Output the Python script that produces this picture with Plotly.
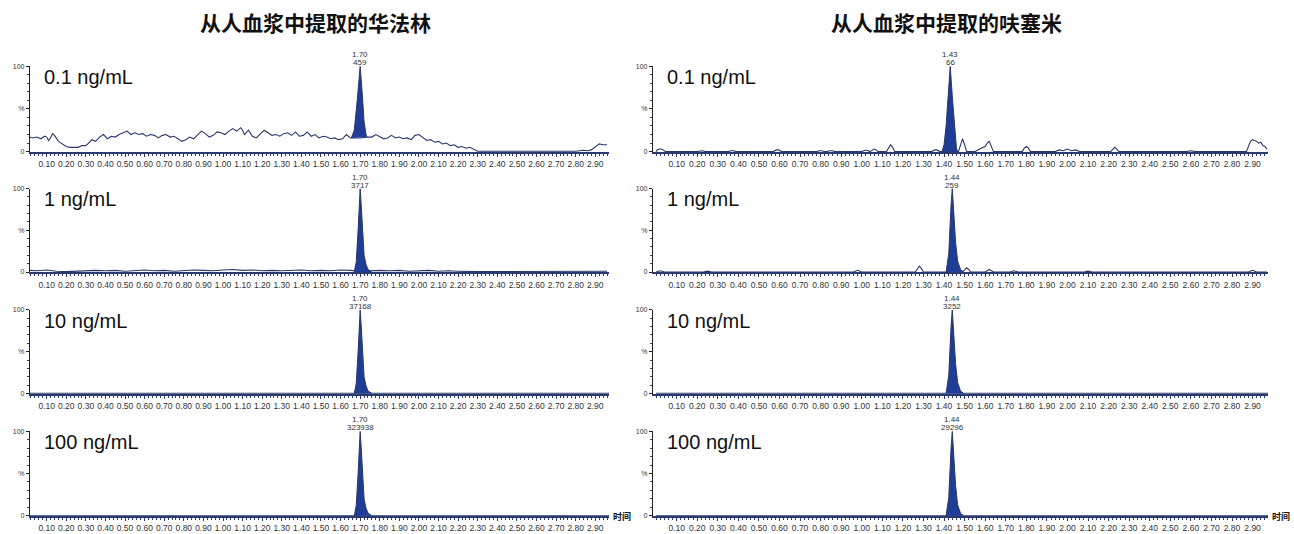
import plotly.graph_objects as go

# ---------------- data ----------------
titles = ["从人血浆中提取的华法林", "从人血浆中提取的呋塞米"]
conc_labels = ["0.1 ng/mL", "1 ng/mL", "10 ng/mL", "100 ng/mL"]
peak_rt_left = ["1.70", "1.70", "1.70", "1.70"]
peak_area_left = ["459", "3717", "37168", "323938"]
peak_rt_right = ["1.43", "1.44", "1.44", "1.44"]
peak_area_right = ["66", "259", "3252", "29296"]

time_ticks = [0.10, 0.20, 0.30, 0.40, 0.50, 0.60, 0.70, 0.80, 0.90, 1.00,
              1.10, 1.20, 1.30, 1.40, 1.50, 1.60, 1.70, 1.80, 1.90, 2.00,
              2.10, 2.20, 2.30, 2.40, 2.50, 2.60, 2.70, 2.80, 2.90]
time_tick_labels = ["0.10", "0.20", "0.30", "0.40", "0.50", "0.60", "0.70", "0.80", "0.90", "1.00",
                    "1.10", "1.20", "1.30", "1.40", "1.50", "1.60", "1.70", "1.80", "1.90", "2.00",
                    "2.10", "2.20", "2.30", "2.40", "2.50", "2.60", "2.70", "2.80", "2.90"]
y_ticks = [0, 50, 100]
y_tick_labels = ["0", "%", "100"]

# left, 0.1 ng/mL baseline (noisy)
t_L01 = [0.01, 0.03, 0.05, 0.07, 0.09, 0.10, 0.11, 0.12, 0.13, 0.14, 0.16, 0.18, 0.20, 0.22, 0.24,
         0.26, 0.28, 0.30, 0.32, 0.33, 0.35, 0.37, 0.39, 0.41, 0.43, 0.45, 0.47, 0.49, 0.51, 0.53,
         0.55, 0.57, 0.59, 0.61, 0.63, 0.65, 0.67, 0.69, 0.71, 0.73, 0.75, 0.77, 0.79, 0.81, 0.83,
         0.85, 0.87, 0.89, 0.91, 0.93, 0.95, 0.97, 0.99, 1.01, 1.03, 1.05, 1.07, 1.09, 1.10, 1.11,
         1.13, 1.15, 1.17, 1.19, 1.21, 1.23, 1.25, 1.27, 1.29, 1.31, 1.33, 1.35, 1.37, 1.39, 1.41,
         1.43, 1.45, 1.47, 1.49, 1.51, 1.53, 1.55, 1.57, 1.59, 1.61, 1.63, 1.65, 1.67, 1.70, 1.73,
         1.76, 1.78, 1.80, 1.82, 1.84, 1.86, 1.88, 1.90, 1.92, 1.94, 1.96, 1.98, 2.00, 2.02, 2.04,
         2.06, 2.08, 2.10, 2.12, 2.14, 2.16, 2.18, 2.20, 2.22, 2.24, 2.26, 2.28, 2.30, 2.40, 2.50,
         2.60, 2.70, 2.80, 2.84, 2.86, 2.88, 2.90, 2.92, 2.94, 2.96]
y_L01 = [17, 16, 17, 15, 18, 17, 13, 16, 21, 19, 12, 9, 6, 5, 5,
         5, 7, 7, 11, 14, 12, 17, 20, 15, 18, 17, 20, 22, 24, 20,
         22, 20, 21, 18, 20, 19, 16, 19, 20, 17, 18, 15, 12, 14, 17,
         15, 19, 24, 21, 17, 19, 23, 22, 20, 24, 27, 24, 28, 25, 20,
         25, 18, 16, 20, 25, 22, 19, 20, 18, 21, 22, 19, 23, 18, 19,
         23, 18, 20, 16, 18, 17, 15, 16, 14, 15, 20, 16, 16, 16, 17,
         17, 20, 17, 15, 16, 19, 16, 17, 15, 16, 14, 19, 20, 17, 13,
         14, 11, 12, 9, 10, 7, 8, 5, 6, 4, 5, 3, 0.5, 0.5, 0.5,
         0.5, 0.5, 0.5, 1.5, 1, 2, 6, 9, 8, 8]
pk_t_L01 = [1.655, 1.670, 1.685, 1.700, 1.710, 1.720, 1.730, 1.735]
pk_y_L01 = [16, 25, 60, 100, 70, 35, 20, 17]

# left, 1 ng/mL baseline
t_L1 = [0.01, 0.05, 0.10, 0.15, 0.20, 0.25, 0.30, 0.35, 0.40, 0.45, 0.50, 0.55, 0.60, 0.65, 0.70,
        0.75, 0.80, 0.85, 0.90, 0.95, 1.00, 1.05, 1.10, 1.15, 1.20, 1.25, 1.30, 1.35, 1.40, 1.45,
        1.50, 1.55, 1.60, 1.65, 1.70, 1.75, 1.80, 1.85, 1.90, 1.95, 2.00, 2.05, 2.10, 2.15, 2.20,
        2.25, 2.30, 2.40, 2.50, 2.60, 2.70, 2.80, 2.90, 2.96]
y_L1 = [2, 1.5, 2.5, 1, 0.5, 1, 2, 2, 1.5, 2, 1, 2, 2.5, 1.5, 2,
        1, 1.5, 2.5, 2, 1.5, 2.5, 3, 2, 2.5, 1.5, 2, 1.5, 2, 2.5, 1.5,
        2, 1.5, 2.5, 2, 1, 1.5, 2, 1.5, 2, 1, 1.5, 2, 1, 1.5, 1,
        0.5, 0.5, 0.5, 0.5, 0.5, 0.5, 0.5, 1, 1]
pk_t_L = [1.670, 1.680, 1.690, 1.700, 1.705, 1.712, 1.720, 1.730, 1.740, 1.760]
pk_y_L = [0, 12, 52, 100, 82, 45, 20, 9, 3, 0]

t_flat = [0.0, 2.98]
y_flat = [0, 0]

# right, 0.1 ng/mL baseline
t_R01 = [0.00, 0.005, 0.015, 0.025, 0.035, 0.045, 0.20, 0.215, 0.225, 0.24, 0.35, 0.365, 0.375, 0.39,
         0.57, 0.585, 0.595, 0.61, 0.78, 0.795, 0.805, 0.82, 0.83, 0.845, 0.855, 0.87,
         1.00, 1.015, 1.025, 1.04, 1.05, 1.06, 1.07, 1.08, 1.12, 1.13, 1.14, 1.15, 1.16,
         1.34, 1.355, 1.365, 1.38, 1.47, 1.48, 1.49, 1.50, 1.51, 1.55, 1.57, 1.59, 1.60,
         1.61, 1.62, 1.63, 1.64, 1.78, 1.79, 1.80, 1.81, 1.82, 1.94, 1.96, 1.98, 2.00, 2.02,
         2.04, 2.06, 2.21, 2.22, 2.23, 2.24, 2.25, 2.58, 2.60, 2.62, 2.87, 2.88, 2.89, 2.90,
         2.91, 2.92, 2.93, 2.94, 2.95, 2.96, 2.97]
y_R01 = [0, 2, 3, 3, 2, 0, 0, 1, 1, 0, 0, 1, 1, 0,
         0, 2, 2, 0, 0, 1, 1, 0, 0, 1, 1, 0,
         0, 1.5, 1.5, 0, 2, 3, 2, 0, 0, 5, 8, 5, 0,
         0, 2, 2, 0, 0, 8, 15, 8, 0, 0, 3, 5, 6,
         10, 12, 6, 0, 0, 4, 6, 4, 0, 0, 2, 1, 3, 1,
         2, 0, 0, 3, 5, 3, 0, 0, 1, 0, 0, 6, 12, 14,
         13, 12, 10, 11, 7, 6, 3]
pk_t_R01 = [1.390, 1.400, 1.410, 1.420, 1.430, 1.440, 1.450, 1.460, 1.465]
pk_y_R01 = [0, 8, 30, 70, 100, 65, 30, 5, 0]

# right, 1 ng/mL baseline
t_R1 = [0.00, 0.01, 0.02, 0.03, 0.04, 0.23, 0.25, 0.27, 0.96, 0.98, 1.00, 1.26, 1.27, 1.28, 1.29, 1.30,
        1.49, 1.50, 1.51, 1.52, 1.53, 1.60, 1.62, 1.64, 1.72, 1.74, 1.76, 2.08, 2.10, 2.12, 2.88,
        2.90, 2.92, 2.97]
y_R1 = [0, 1, 1.5, 1, 0, 0, 1, 0, 0, 2, 0, 0, 4, 7, 4, 0,
        0, 3, 5, 3, 0, 0, 3, 0, 0, 1.5, 0, 0, 1, 0, 0,
        2, 0, 0]
pk_t_R = [1.410, 1.423, 1.434, 1.440, 1.446, 1.456, 1.466, 1.480, 1.495]
pk_y_R = [0, 22, 80, 100, 76, 36, 13, 3, 0]

panels = [
    (t_L01, y_L01, pk_t_L01, pk_y_L01),
    (t_L1, y_L1, pk_t_L, pk_y_L),
    (t_flat, y_flat, pk_t_L, pk_y_L),
    (t_flat, y_flat, pk_t_L, pk_y_L),
    (t_R01, y_R01, pk_t_R01, pk_y_R01),
    (t_R1, y_R1, pk_t_R, pk_y_R),
    (t_flat, y_flat, pk_t_R, pk_y_R),
    (t_flat, y_flat, pk_t_R, pk_y_R),
]

# ---------------- layout geometry ----------------
W, H = 1294, 534
x_domains = [[30 / W, 609 / W], [653 / W, 1268 / W]]
x_ranges = [[0.015, 2.97], [-0.015, 2.975]]
row_px = [(63, 150), (187, 272), (310, 395), (433, 519)]
y_domains = [[1 - b / H, 1 - t / H] for (t, b) in row_px]

LINE = "#2a3768"
FILL = "#1f3c96"
AXC = "#2b3a6e"
TXT = "#333333"
TICKFONT = dict(family="Liberation Sans Narrow, Liberation Sans, Arial", size=8.5, color=TXT)

fig = go.Figure()
layout = dict(
    width=W, height=H, margin=dict(l=0, r=0, t=0, b=0),
    paper_bgcolor="white", plot_bgcolor="white", showlegend=False,
)
annotations = []

for i, (bt, by, pt, py) in enumerate(panels):
    col = i // 4
    row = i % 4
    n = i + 1
    xa = "x" if n == 1 else f"x{n}"
    ya = "y" if n == 1 else f"y{n}"
    fig.add_trace(go.Scatter(x=bt, y=by, mode="lines", xaxis=xa, yaxis=ya,
                             line=dict(color=LINE, width=1.1), hoverinfo="skip"))
    fig.add_trace(go.Scatter(x=pt, y=py, mode="lines", xaxis=xa, yaxis=ya, fill="toself",
                             fillcolor=FILL, line=dict(color=LINE, width=1), hoverinfo="skip"))
    layout[f"xaxis{n}"] = dict(
        domain=x_domains[col], range=x_ranges[col], anchor=ya,
        showline=True, linecolor=AXC, linewidth=2, showgrid=False, zeroline=False,
        tickvals=time_ticks, ticktext=time_tick_labels, tickangle=0,
        ticks="outside", ticklen=3, tickcolor=AXC, tickwidth=1,
        minor=dict(dtick=0.02, tick0=0, ticks="outside", ticklen=2, tickcolor=AXC),
        tickfont=TICKFONT, fixedrange=True,
    )
    layout[f"yaxis{n}"] = dict(
        domain=y_domains[row], range=[-0.5, 100], anchor=xa,
        showline=True, linecolor="#222222", linewidth=1.2, showgrid=False, zeroline=False,
        tickvals=y_ticks, ticktext=y_tick_labels,
        ticks="outside", ticklen=3, tickcolor="#222222",
        minor=dict(dtick=10, ticks="outside", ticklen=2, tickcolor="#444444"),
        tickfont=dict(family="Liberation Sans", size=7, color=TXT), fixedrange=True,
    )
    # concentration label
    annotations.append(dict(
        text=conc_labels[row], xref="paper", yref="paper",
        x=(x_domains[col][0] * W + 12) / W, y=1 - (row_px[row][0] + 11) / H,
        xanchor="left", yanchor="middle", showarrow=False,
        font=dict(family="Liberation Sans, Arial", size=20, color="#111111"),
    ))
    # peak labels (retention time above area)
    rts = peak_rt_left if col == 0 else peak_rt_right
    areas = peak_area_left if col == 0 else peak_area_right
    pk_x = pt[py.index(max(py))]
    annotations.append(dict(
        text=areas[row], xref=xa, yref=ya, x=pk_x, y=100, yshift=-3,
        xanchor="center", yanchor="bottom", showarrow=False,
        font=dict(family="Liberation Sans, Arial", size=8, color=TXT),
    ))
    annotations.append(dict(
        text=rts[row], xref=xa, yref=ya, x=pk_x, y=100, yshift=5,
        xanchor="center", yanchor="bottom", showarrow=False,
        font=dict(family="Liberation Sans, Arial", size=8, color=TXT),
    ))

# titles
for col, ttl in enumerate(titles):
    cx = [315, 946][col]
    annotations.append(dict(
        text=f"<b>{ttl}</b>", xref="paper", yref="paper", x=cx / W, y=1 - 18 / H,
        xanchor="center", yanchor="middle", showarrow=False,
        font=dict(family="Noto Sans CJK SC", size=21, color="#111111"),
    ))
# time axis labels
for col in range(2):
    annotations.append(dict(
        text="<b>时间</b>", xref="paper", yref="paper", x=(x_domains[col][1] * W + 2) / W,
        y=1 - 519 / H, xanchor="left", yanchor="middle", showarrow=False,
        font=dict(family="Noto Sans CJK SC", size=9, color="#111111"),
    ))

layout["annotations"] = annotations
fig.update_layout(**layout)
fig.write_html("out.html")
